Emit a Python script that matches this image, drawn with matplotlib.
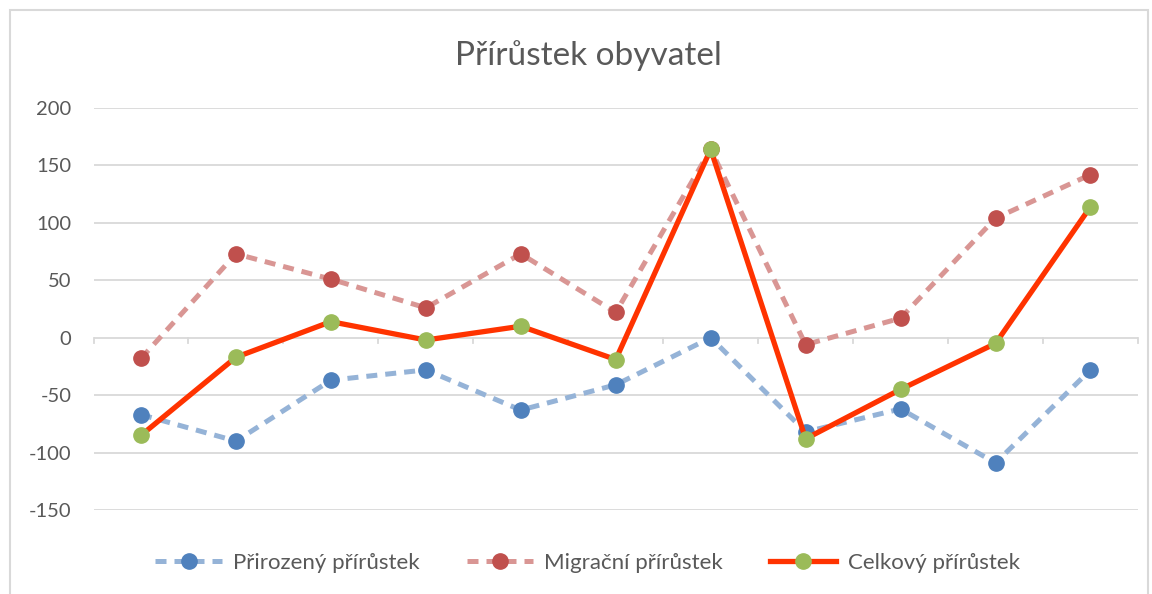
import matplotlib
matplotlib.use("Agg")
import matplotlib.pyplot as plt
from matplotlib.patches import Rectangle

plt.rcParams['font.family'] = ['Lato', 'DejaVu Sans']

categories = list(range(1, 12))
prirozeny = [-67, -90, -37, -28, -63, -41, 0, -82, -62, -109, -28]
migracni = [-18, 73, 51, 26, 73, 22, 164, -6, 17, 104, 142]
celkovy = [-85, -17, 14, -2, 10, -19, 164, -88, -45, -5, 114]
yticks = [-150, -100, -50, 0, 50, 100, 150, 200]

fig = plt.figure(figsize=(11.52, 5.94), dpi=100)
ax = fig.add_axes([0.0812, 0.1414, 0.9066, 0.6768])

x = list(range(len(categories)))
ax.plot(x, prirozeny, color='#95B3D7', lw=3.6, ls=(0, (2.2, 1.6)), marker='o',
        ms=11, mfc='#4F81BD', mec='#4F81BD', label='Přirozený přírůstek', zorder=3)
ax.plot(x, migracni, color='#D99694', lw=3.6, ls=(0, (2.2, 1.6)), marker='o',
        ms=11, mfc='#C0504D', mec='#C0504D', label='Migrační přírůstek', zorder=3)
ax.plot(x, celkovy, color='#FF3300', lw=3.8, marker='o',
        ms=11, mfc='#9BBB59', mec='#9BBB59', label='Celkový přírůstek', zorder=4)

ax.set_xlim(-0.5, len(categories) - 0.5)
ax.set_ylim(-150, 200)
ax.set_yticks(yticks)
ax.set_yticklabels([str(v) for v in yticks], fontsize=14.5, color='#595959')
ax.tick_params(axis='y', length=0, pad=16)
ax.set_xticks([])
for s in ax.spines.values():
    s.set_visible(False)
for v in yticks:
    ax.axhline(v, color='#D9D9D9', lw=1.3, zorder=1)
# category tick marks on zero line
for b in [i - 0.5 for i in range(len(categories) + 1)]:
    ax.plot([b, b], [0, -4.5], color='#D9D9D9', lw=1.3, zorder=1, clip_on=False)

fig.text(0.511, 0.907, 'Přírůstek obyvatel', ha='center', va='center',
         fontsize=24, color='#595959')

leg = fig.legend(loc='center', bbox_to_anchor=(0.51, 0.052), ncol=3, frameon=False,
                 fontsize=16, handlelength=3.0, columnspacing=2.1, handletextpad=0.5)
for t in leg.get_texts():
    t.set_color('#595959')

fig.patches.append(Rectangle((10 / 1152, -0.05), 1138 / 1152, 1 - 10 / 594 + 0.05,
                             transform=fig.transFigure, fill=False,
                             edgecolor='#D9D9D9', lw=1.5))

fig.savefig('out.png', dpi=100)
